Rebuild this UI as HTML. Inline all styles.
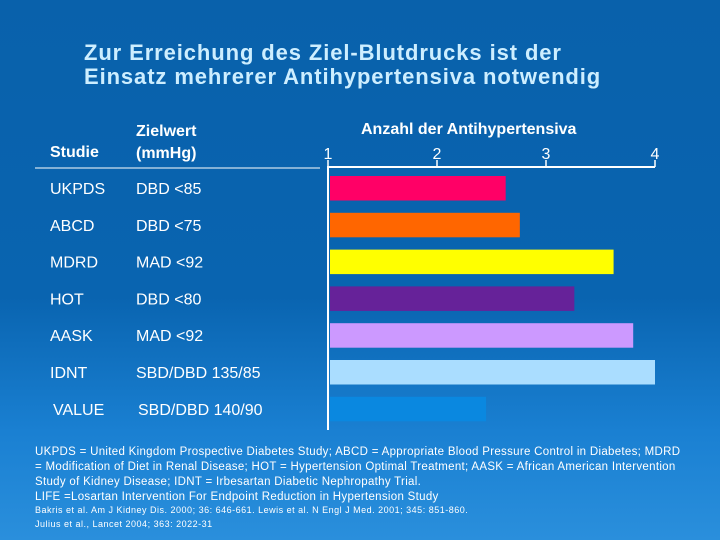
<!DOCTYPE html>
<html><head><meta charset="utf-8"><style>
body{margin:0;width:720px;height:540px;overflow:hidden;font-family:"Liberation Sans",sans-serif;}
#bg{position:absolute;left:0;top:0;width:720px;height:540px;background:linear-gradient(180deg,#0961ab 0%,#0964b0 55%,#1a80d2 80%,#2a8fdc 100%);}
.t{position:absolute;color:#fff;white-space:nowrap;}
</style></head><body>
<div id="bg"></div>
<div class="t" style="left:84px;top:41px;font-size:22px;letter-spacing:0.9px;font-weight:bold;color:#cdeeff;line-height:24px;">Zur Erreichung des Ziel-Blutdrucks ist der<br>Einsatz mehrerer Antihypertensiva notwendig</div>
<div class="t" style="left:50px;top:144px;font-size:16px;font-weight:bold;">Studie</div>
<div class="t" style="left:136px;top:121px;font-size:16px;font-weight:bold;line-height:22px;">Zielwert<br>(mmHg)</div>
<div class="t" style="left:361px;top:121px;font-size:16px;font-weight:bold;">Anzahl der Antihypertensiva</div>
<div id="footnote" class="t" style="left:35px;top:445px;font-size:11.5px;letter-spacing:0.3px;line-height:15px;">UKPDS = United Kingdom Prospective Diabetes Study; ABCD = Appropriate Blood Pressure Control in Diabetes; MDRD<br>= Modification of Diet in Renal Disease; HOT = Hypertension Optimal Treatment; AASK = African American Intervention<br>Study of Kidney Disease; IDNT = Irbesartan Diabetic Nephropathy Trial.<br>LIFE =Losartan Intervention For Endpoint Reduction in Hypertension Study<br><span style="font-size:9px;letter-spacing:0.5px;line-height:14px;display:block;margin-top:-2px;">Bakris et al. Am J Kidney Dis. 2000; 36: 646-661. Lewis et al. N Engl J Med. 2001; 345: 851-860.<br>Julius et al., Lancet 2004; 363: 2022-31</span></div>
<svg id="chart" width="720" height="540" style="position:absolute;left:0;top:0"></svg>
<script>
const studies=["UKPDS","ABCD","MDRD","HOT","AASK","IDNT","VALUE"];
const targets=["DBD <85","DBD <75","MAD <92","DBD <80","MAD <92","SBD/DBD 135/85","SBD/DBD 140/90"];
const values=[2.63,2.76,3.62,3.26,3.80,4.0,2.45];
const colors=["#ff0066","#ff6600","#ffff00","#662299","#cc99ff","#aaddff","#0a88e0"];
const ticks=[1,2,3,4];
const NS="http://www.w3.org/2000/svg";
const svg=document.getElementById('chart');
const x=v=>328+(v-1)*109;
const yTop=i=>176+i*36.8;
function mk(t,a){const e=document.createElementNS(NS,t);for(const k in a)e.setAttribute(k,a[k]);svg.appendChild(e);return e;}
let hl=mk('line',{x1:35,y1:168,x2:320,y2:168,stroke:'#fff','stroke-width':1});


let ax=mk('line',{x1:x(1),y1:167,x2:x(4),y2:167,stroke:'#fff','stroke-width':2});


let vl=mk('line',{x1:x(1),y1:166,x2:x(1),y2:430,stroke:'#fff','stroke-width':2});


ticks.forEach(t=>{
  let tk=mk('line',{x1:x(t),y1:160,x2:x(t),y2:167,stroke:'#fff','stroke-width':1.5});
  
  
  let tl=mk('text',{x:x(t),y:159,fill:'#fff','font-size':16,'text-anchor':'middle','font-family':'Liberation Sans, sans-serif'});
  tl.textContent=t;
  
  
});
values.forEach((v,i)=>{
  let r=mk('rect',{x:x(1)+2,y:yTop(i),width:x(v)-x(1)-2,height:24.5,fill:colors[i]});
  
  
  let s=mk('text',{x:i==6?53:50,y:yTop(i)+18,fill:'#fff','font-size':16,'font-family':'Liberation Sans, sans-serif'});
  s.textContent=studies[i];
  
  
  let z=mk('text',{x:i==6?138:136,y:yTop(i)+18,fill:'#fff','font-size':16,'font-family':'Liberation Sans, sans-serif'});
  z.textContent=targets[i];
  
  
});
</script>
</body></html>
